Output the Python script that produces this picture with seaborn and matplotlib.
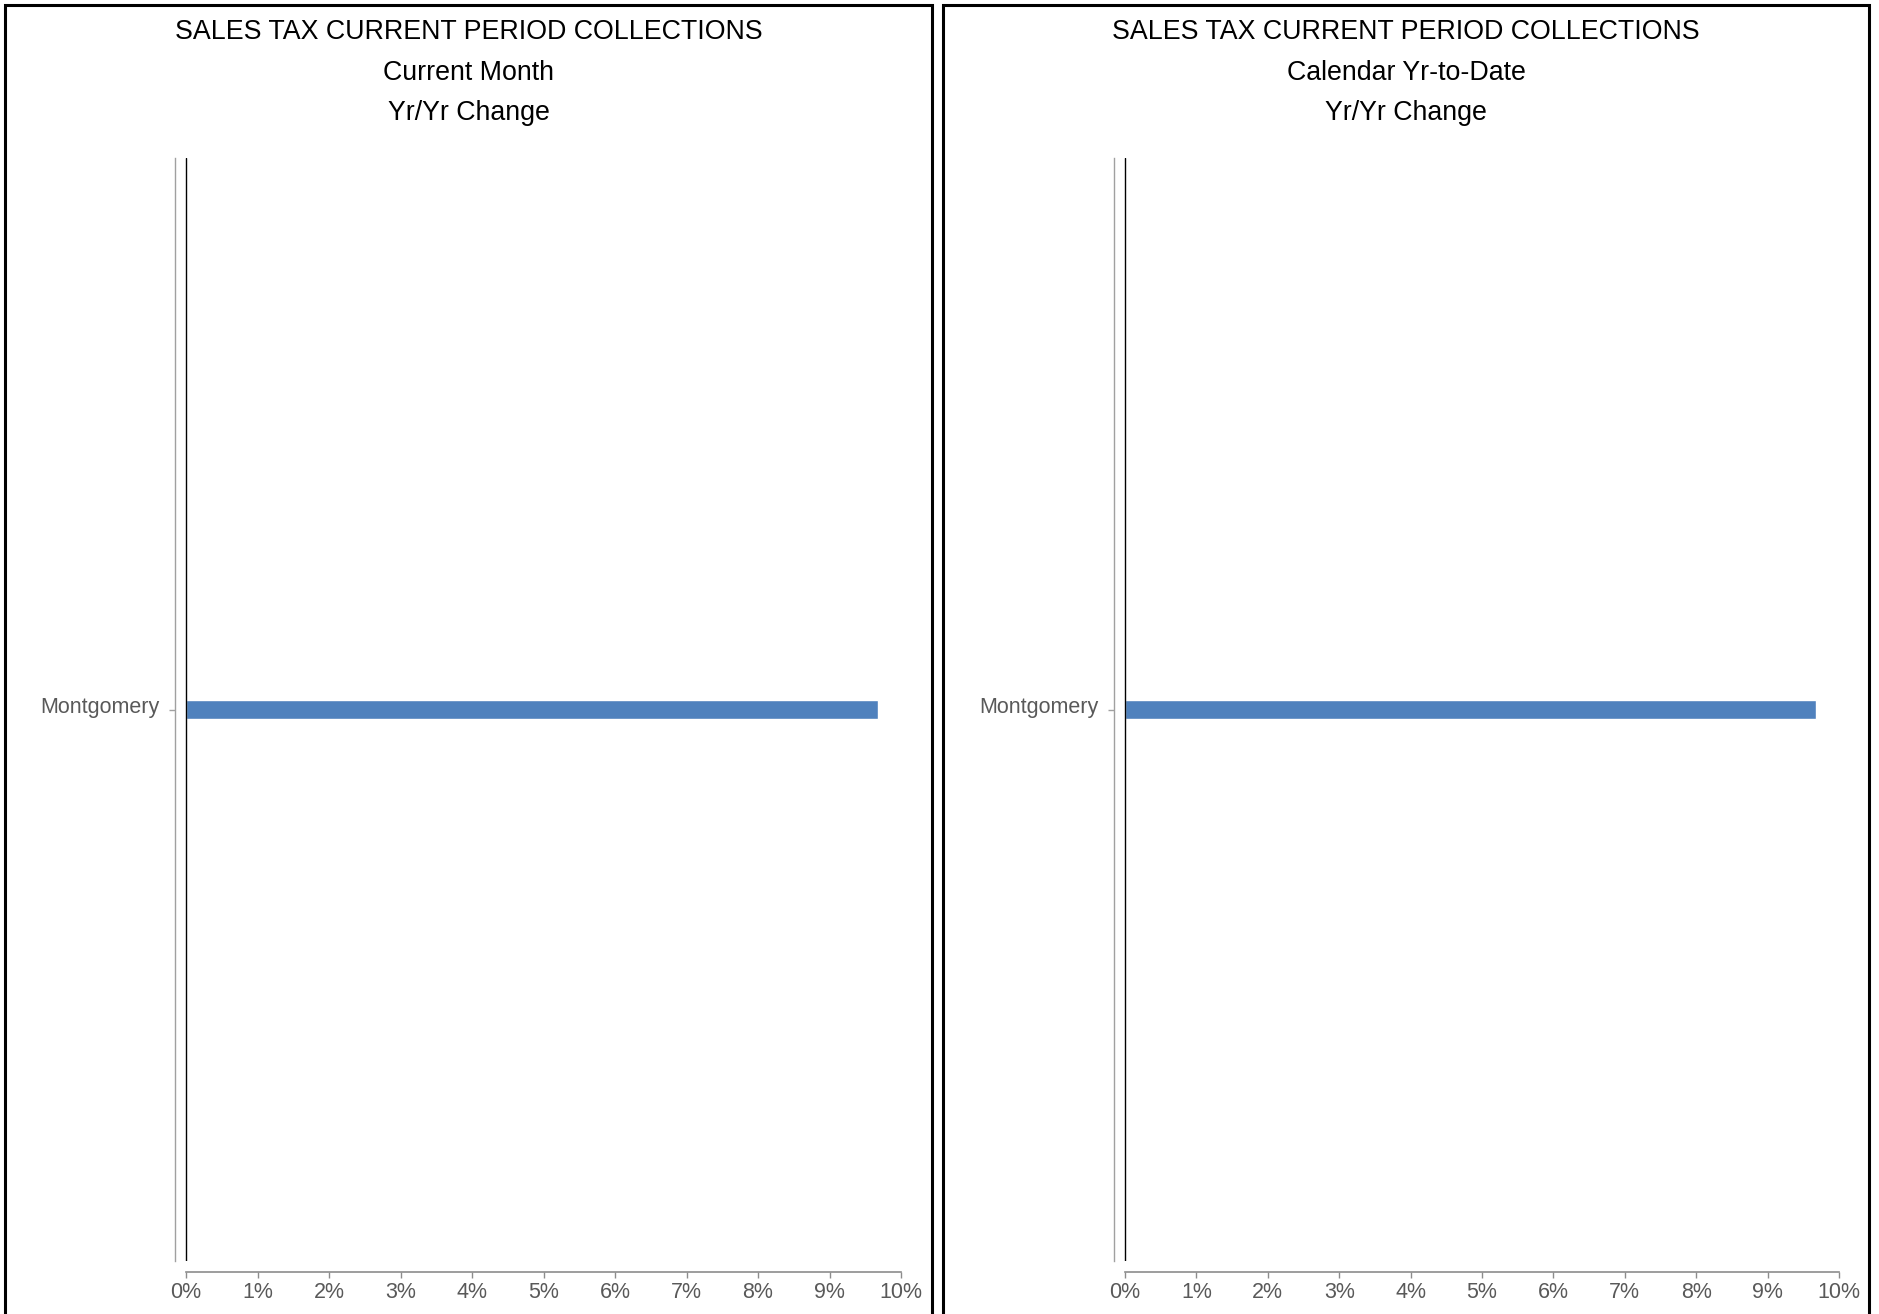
import matplotlib
matplotlib.use("Agg")
import matplotlib.pyplot as plt
import matplotlib.patches as mpatches
import matplotlib.transforms as mtransforms
import seaborn as sns
import pandas as pd

# ---- data ----
categories = ["Montgomery"]
current_month_change = [9.68]      # % yr/yr change
calendar_ytd_change = [9.68]       # % yr/yr change
x_ticks = [0, 1, 2, 3, 4, 5, 6, 7, 8, 9, 10]
x_tick_labels = ["0%", "1%", "2%", "3%", "4%", "5%", "6%", "7%", "8%", "9%", "10%"]
titles_left = ["SALES TAX CURRENT PERIOD COLLECTIONS", "Current Month", "Yr/Yr Change"]
titles_right = ["SALES TAX CURRENT PERIOD COLLECTIONS", "Calendar Yr-to-Date", "Yr/Yr Change"]

sns.set_style("white")
plt.rcParams["font.family"] = ["Liberation Sans", "DejaVu Sans"]

W, H = 1879, 1314
fig = plt.figure(figsize=(W / 100, H / 100), dpi=100)

BAR_COLOR = "#4F81BD"
AXIS_GRAY = "#8C8C8C"
LABEL_GRAY = "#595959"


def px_axes(x0, x1, ytop, ybot):
    return fig.add_axes([x0 / W, 1 - ybot / H, (x1 - x0) / W, (ybot - ytop) / H])


def draw_panel(ax, values, frame_x0, frame_x1, titles):
    df = pd.DataFrame({"county": categories, "change": values})
    sns.barplot(data=df, x="change", y="county", orient="h", color=BAR_COLOR,
                width=0.018, saturation=1, ax=ax)
    ax.set_xlim(-0.154, 10)
    ax.set_ylim(0.5, -0.5)
    ax.axvline(0, color="black", lw=1.0, zorder=3)
    for s in ["top", "right"]:
        ax.spines[s].set_visible(False)
    ax.spines["left"].set_color("#A0A0A0")
    ax.spines["left"].set_linewidth(1.0)
    ax.spines["bottom"].set_color(AXIS_GRAY)
    ax.spines["bottom"].set_linewidth(1.2)
    ax.spines["bottom"].set_position(("outward", 8))
    ax.spines["bottom"].set_bounds(0, 10)
    ax.set_xticks(x_ticks)
    ax.set_xticklabels(x_tick_labels)
    ax.tick_params(axis="x", direction="out", length=4, width=1, color=AXIS_GRAY,
                   labelsize=15.5, labelcolor=LABEL_GRAY, pad=3, bottom=True)
    ax.tick_params(axis="y", direction="out", length=4, width=1, color="#A0A0A0",
                   labelsize=15.5, labelcolor=LABEL_GRAY, pad=7, left=True)
    ax.set_xlabel("")
    ax.set_ylabel("")
    ax.grid(False)
    # nudge category label slightly upward, as in the reference
    offset = mtransforms.ScaledTranslation(0, 5 / 100, fig.dpi_scale_trans)
    for lab in ax.get_yticklabels():
        lab.set_transform(lab.get_transform() + offset)
    # panel frame
    rect = mpatches.Rectangle((frame_x0 / W, -0.02), (frame_x1 - frame_x0) / W,
                              (H - 5) / H + 0.02, transform=fig.transFigure,
                              fill=False, edgecolor="black", lw=2.2, zorder=10)
    fig.patches.append(rect)
    cx = (frame_x0 + frame_x1) / 2 / W
    for ypx, t in zip([32, 73, 113], titles):
        fig.text(cx, 1 - ypx / H, t, ha="center", va="center", fontsize=19.3, color="black")


ax1 = px_axes(175, 901, 158, 1261)
draw_panel(ax1, current_month_change, 5, 932, titles_left)
ax2 = px_axes(1114, 1839, 158, 1261)
draw_panel(ax2, calendar_ytd_change, 943, 1869, titles_right)

fig.savefig("out.png", dpi=100, facecolor="white")
